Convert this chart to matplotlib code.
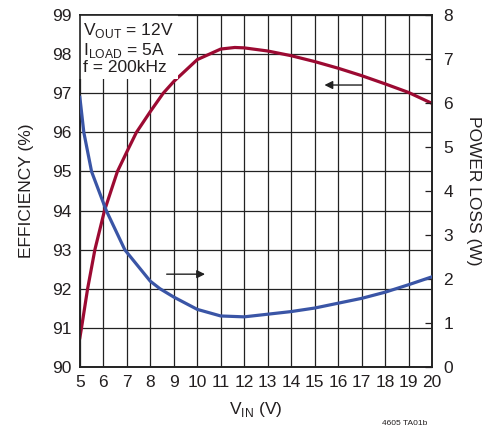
import matplotlib
matplotlib.use("Agg")
import matplotlib.pyplot as plt
from matplotlib import font_manager

# Data (denser where the curves bend)
eff_vin = [5, 5.07, 5.33, 5.64, 6.05, 6.6, 7, 7.41, 8, 8.55, 9, 10,
           11, 11.6, 12, 13, 14, 15, 16, 17, 18, 19, 20]
efficiency = [90.75, 91.0, 92.0, 93.0, 94.0, 95.0, 95.5, 96.0, 96.53, 97.0,
              97.3, 97.86, 98.13, 98.17, 98.16, 98.08, 97.96, 97.81, 97.64,
              97.45, 97.24, 97.02, 96.74]

loss_vin = [5, 5.17, 5.5, 6.13, 6.92, 8, 8.41, 9, 10, 11, 12, 13, 14,
            15, 16, 17, 18, 19, 20]
power_loss = [6.13, 5.33, 4.44, 3.55, 2.66, 1.95, 1.78, 1.59, 1.31, 1.16,
              1.14, 1.20, 1.26, 1.34, 1.45, 1.56, 1.70, 1.87, 2.05]

x_ticks = list(range(5, 21))
eff_ticks = list(range(90, 100))
loss_ticks = list(range(0, 9))

RED = "#9c0a32"
BLUE = "#3a55a6"
TEXT = "#231f20"

names = {f.name for f in font_manager.fontManager.ttflist}
FONT = ["Liberation Sans Narrow", "DejaVu Sans"] if "Liberation Sans Narrow" in names else ["Liberation Sans", "DejaVu Sans"]
plt.rcParams["font.family"] = FONT

fig = plt.figure(figsize=(4.96, 4.29), dpi=100)
ax = fig.add_axes([0.161, 0.1445, 0.710, 0.8205])
ax2 = ax.twinx()

ax.plot(eff_vin, efficiency, color=RED, linewidth=2.3, solid_joinstyle="round", zorder=3)
ax2.plot(loss_vin, power_loss, color=BLUE, linewidth=2.3, solid_joinstyle="round", zorder=3)

ax.set_xlim(5, 20)
ax.set_ylim(90, 99)
ax2.set_ylim(0, 8)
ax.set_xticks(x_ticks)
ax.set_yticks(eff_ticks)
ax2.set_yticks(loss_ticks)
ax.grid(True, color="#222222", linewidth=0.9)
ax.set_axisbelow(True)

ax.tick_params(axis="both", length=0, labelsize=12.5, colors=TEXT, pad=6)
ax2.tick_params(axis="y", direction="in", length=5, width=0.9, labelsize=12.5,
                colors=TEXT, pad=8)
for a in (ax, ax2):
    for s in a.spines.values():
        s.set_color("#222222")
        s.set_linewidth(1.2)

ax.set_xlabel("V$_{\\mathregular{IN}}$ (V)", fontsize=12.5, color=TEXT, labelpad=7)
ax.set_ylabel("EFFICIENCY (%)", fontsize=12.5, color=TEXT, labelpad=13)
ax2.set_ylabel("POWER LOSS (W)", fontsize=12.5, color=TEXT, rotation=-90, labelpad=20)

ax.text(5.15, 98.85,
        "V$_{\\mathregular{OUT}}$ = 12V\nI$_{\\mathregular{LOAD}}$ = 5A\nf = 200kHz",
        fontsize=12.5, color=TEXT, va="top", ha="left", linespacing=1.05,
        bbox=dict(facecolor="white", edgecolor="none", pad=3), zorder=4)

# direction arrows
ax.annotate("", xy=(15.3, 97.21), xytext=(17.15, 97.21),
            arrowprops=dict(arrowstyle="-|>", color="#222222", lw=1.0,
                            mutation_scale=12), zorder=5)
ax2.annotate("", xy=(10.45, 2.11), xytext=(8.58, 2.11),
             arrowprops=dict(arrowstyle="-|>", color="#222222", lw=1.0,
                             mutation_scale=12), zorder=5)

fig.text(0.77, 0.004, "4605 TA01b", fontsize=6, color=TEXT, va="bottom")

fig.savefig("out.png", dpi=100, facecolor="white")
